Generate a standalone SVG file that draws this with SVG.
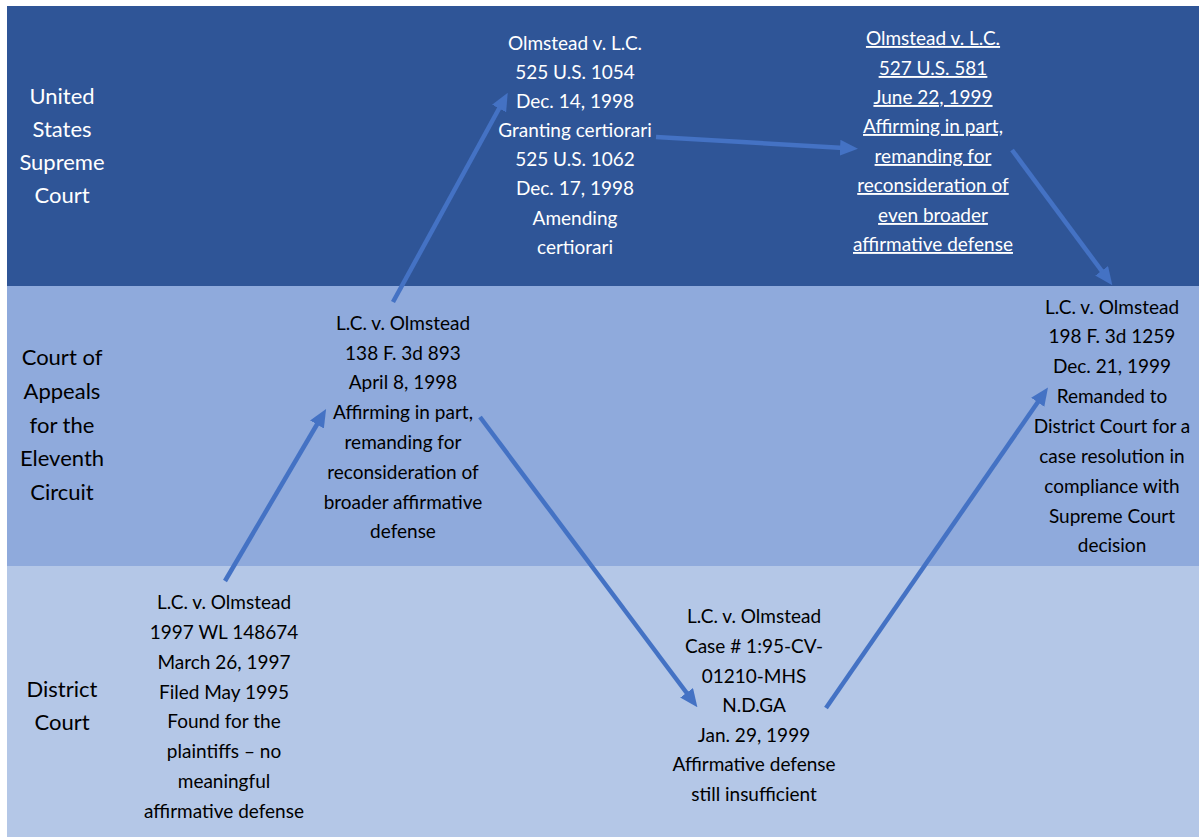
<svg xmlns="http://www.w3.org/2000/svg" width="1199" height="837" viewBox="0 0 1199 837">
<style>
.lbl{font-family:Lato,"Liberation Sans",sans-serif;font-size:22px;text-anchor:middle}
.nd{font-family:Lato,"Liberation Sans",sans-serif;font-size:19px;text-anchor:middle}
.w{fill:#ffffff}
.k{fill:#000000}
.u{text-decoration:underline}
.arr{stroke:#4472C4;stroke-width:4.5;fill:none;marker-end:url(#ah)}
</style>
<defs>
<marker id="ah" markerUnits="userSpaceOnUse" markerWidth="18" markerHeight="16" viewBox="0 0 18 16" refX="4" refY="8" orient="auto">
<path d="M0,0 L18,8 L0,16 z" fill="#4472C4"/>
</marker>
</defs>
<rect x="0" y="0" width="1199" height="837" fill="#ffffff"/>
<g id="bands">
<rect x="7" y="6" width="1192" height="280" fill="#2F5597"/>
<rect x="7" y="286" width="1192" height="280" fill="#8FAADC"/>
<rect x="7" y="566" width="1192" height="271" fill="#B4C7E7"/>
</g>
<g id="lane-labels">
<text class="lbl w"><tspan x="62" y="104">United</tspan><tspan x="62" y="137">States</tspan><tspan x="62" y="170">Supreme</tspan><tspan x="62" y="203">Court</tspan></text>
<text class="lbl k"><tspan x="62" y="365">Court of</tspan><tspan x="62" y="399">Appeals</tspan><tspan x="62" y="433">for the</tspan><tspan x="62" y="466">Eleventh</tspan><tspan x="62" y="500">Circuit</tspan></text>
<text class="lbl k"><tspan x="62" y="697">District</tspan><tspan x="62" y="730">Court</tspan></text>
</g>
<g id="node-sc1">
<text class="nd w"><tspan x="575" y="50">Olmstead v. L.C.</tspan><tspan x="575" y="79">525 U.S. 1054</tspan><tspan x="575" y="108">Dec. 14, 1998</tspan><tspan x="575" y="137">Granting certiorari</tspan><tspan x="575" y="166">525 U.S. 1062</tspan><tspan x="575" y="195">Dec. 17, 1998</tspan><tspan x="575" y="225">Amending</tspan><tspan x="575" y="254">certiorari</tspan></text>
</g>
<g id="node-sc2">
<text class="nd w u"><tspan x="933" y="45">Olmstead v. L.C.</tspan><tspan x="933" y="75">527 U.S. 581</tspan><tspan x="933" y="104">June 22, 1999</tspan><tspan x="933" y="133">Affirming in part,</tspan><tspan x="933" y="163">remanding for</tspan><tspan x="933" y="192">reconsideration of</tspan><tspan x="933" y="222">even broader</tspan><tspan x="933" y="251">affirmative defense</tspan></text>
</g>
<g id="node-ca1">
<text class="nd k"><tspan x="403" y="330">L.C. v. Olmstead</tspan><tspan x="403" y="360">138 F. 3d 893</tspan><tspan x="403" y="389">April 8, 1998</tspan><tspan x="403" y="419">Affirming in part,</tspan><tspan x="403" y="449">remanding for</tspan><tspan x="403" y="479">reconsideration of</tspan><tspan x="403" y="509">broader affirmative</tspan><tspan x="403" y="538">defense</tspan></text>
</g>
<g id="node-ca2">
<text class="nd k"><tspan x="1112" y="314">L.C. v. Olmstead</tspan><tspan x="1112" y="343">198 F. 3d 1259</tspan><tspan x="1112" y="373">Dec. 21, 1999</tspan><tspan x="1112" y="403">Remanded to</tspan><tspan x="1112" y="433">District Court for a</tspan><tspan x="1112" y="463">case resolution in</tspan><tspan x="1112" y="493">compliance with</tspan><tspan x="1112" y="523">Supreme Court</tspan><tspan x="1112" y="552">decision</tspan></text>
</g>
<g id="node-dc1">
<text class="nd k"><tspan x="224" y="609">L.C. v. Olmstead</tspan><tspan x="224" y="639">1997 WL 148674</tspan><tspan x="224" y="669">March 26, 1997</tspan><tspan x="224" y="699">Filed May 1995</tspan><tspan x="224" y="728">Found for the</tspan><tspan x="224" y="758">plaintiffs – no</tspan><tspan x="224" y="788">meaningful</tspan><tspan x="224" y="818">affirmative defense</tspan></text>
</g>
<g id="node-dc2">
<text class="nd k"><tspan x="754" y="623">L.C. v. Olmstead</tspan><tspan x="754" y="653">Case # 1:95-CV-</tspan><tspan x="754" y="683">01210-MHS</tspan><tspan x="754" y="712">N.D.GA</tspan><tspan x="754" y="742">Jan. 29, 1999</tspan><tspan x="754" y="771">Affirmative defense</tspan><tspan x="754" y="801">still insufficient</tspan></text>
</g>
<g id="connectors">
<line class="arr" x1="225" y1="581" x2="319" y2="421"/>
<line class="arr" x1="393" y1="302" x2="501" y2="105"/>
<line class="arr" x1="656" y1="137" x2="844" y2="148"/>
<line class="arr" x1="1012" y1="150" x2="1104" y2="274"/>
<line class="arr" x1="480" y1="417" x2="689" y2="696"/>
<line class="arr" x1="826" y1="708" x2="1040" y2="399"/>
</g>
</svg>
